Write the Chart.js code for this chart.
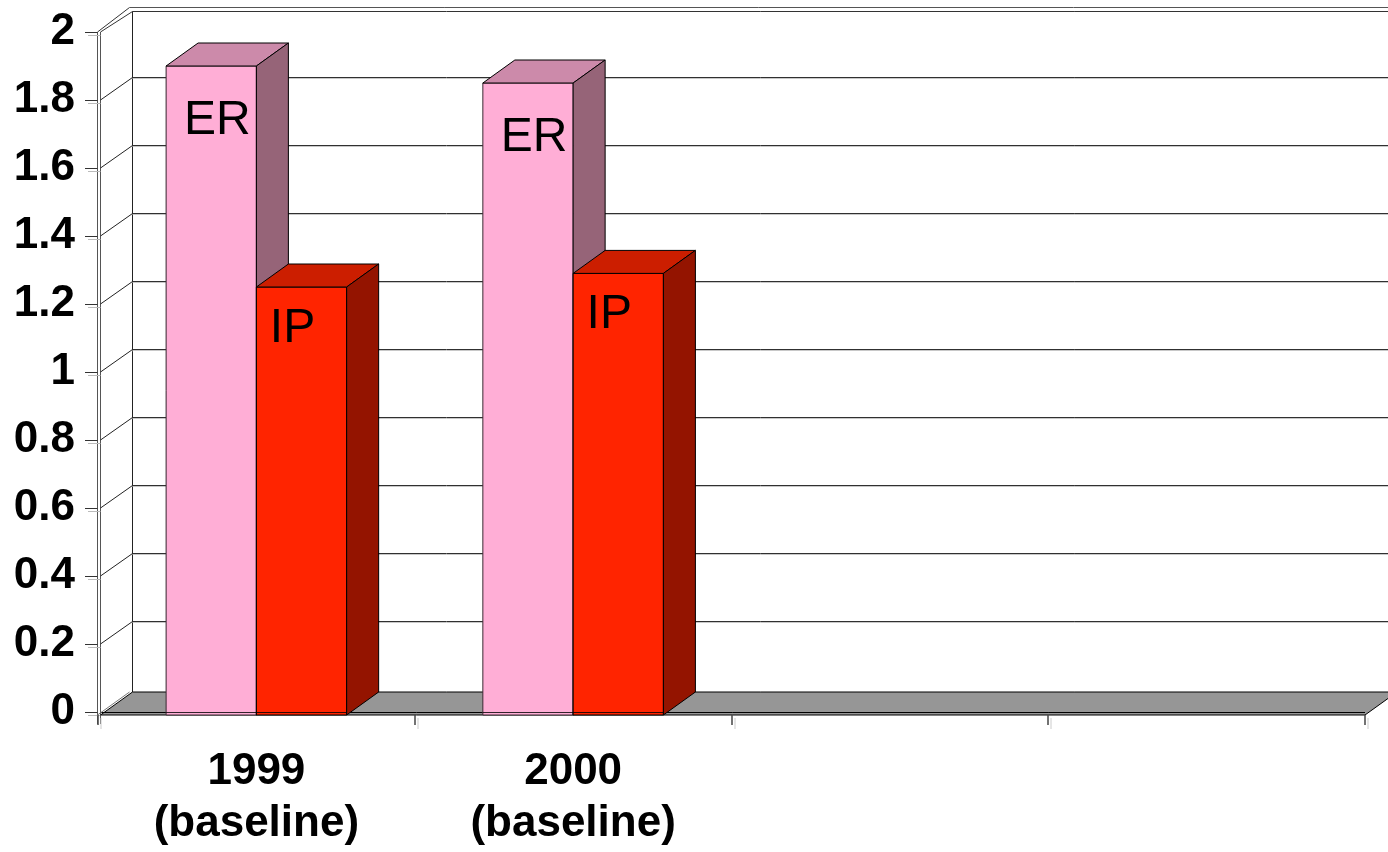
<!DOCTYPE html>
<html>
<head>
<meta charset="utf-8">
<script src="https://cdn.jsdelivr.net/npm/chart.js@4/dist/chart.umd.min.js"></script>
<style>
  html, body { margin: 0; padding: 0; background: #fff; }
  #wrap { width: 1388px; height: 852px; position: relative; }
</style>
</head>
<body>
<div id="wrap"><canvas id="c" width="1388" height="852"></canvas></div>
<script>
// Categories (two labelled years, two empty slots) and the two series
const categories = [['1999', '(baseline)'], ['2000', '(baseline)'], '', ''];
const erValues = [1.9, 1.85, null, null];
const ipValues = [1.25, 1.29, null, null];
const seriesNames = ['ER', 'IP'];
const yTickLabels = ['0', '0.2', '0.4', '0.6', '0.8', '1', '1.2', '1.4', '1.6', '1.8', '2'];

const FONT = '"Liberation Sans", Arial, sans-serif';
const DX = 32, DY = -23;      // depth offset of the 3D box
const DROP = 3;               // thickness of the floor slab

const px = v => Math.round(v) + 0.5;   // crisp 1px lines

function poly(ctx, pts, fill, stroke) {
  ctx.beginPath();
  ctx.moveTo(pts[0][0], pts[0][1]);
  for (let i = 1; i < pts.length; i++) ctx.lineTo(pts[i][0], pts[i][1]);
  ctx.closePath();
  if (fill) { ctx.fillStyle = fill; ctx.fill(); }
  if (stroke) { ctx.strokeStyle = stroke; ctx.lineWidth = 1; ctx.stroke(); }
}
function line(ctx, x1, y1, x2, y2, color, w) {
  ctx.beginPath();
  ctx.moveTo(x1, y1); ctx.lineTo(x2, y2);
  ctx.strokeStyle = color; ctx.lineWidth = w || 1; ctx.stroke();
}

// Draws walls, floor, depth faces of the bars and the in-bar labels
const box3d = {
  id: 'box3d',
  beforeDatasetsDraw(chart) {
    const { ctx, chartArea: a, scales: { y } } = chart;
    const W = chart.width;
    const fx = px(a.left + 2);      // inner front edge of side wall
    const bx = px(a.left + 2 + DX); // back wall left edge
    const ox = px(a.left - 1);      // outer front edge of side wall
    const top = y.getPixelForValue(2);
    const floorFront = a.bottom + DROP;
    ctx.save();
    // side wall front edges
    line(ctx, ox, top, ox, floorFront + 9, '#555');
    line(ctx, fx, top, fx, floorFront + 9, '#555');
    // wall top edges
    const t1 = px(top + DY - 2), t2 = px(top + DY + 2);
    line(ctx, ox, top, bx - 3, t1, '#333');
    line(ctx, fx, top, bx, t2, '#333');
    line(ctx, bx - 3, t1, W, t1, '#555');
    line(ctx, bx, t2, W, t2, '#333');
    // back wall left edge
    line(ctx, bx, t2, bx, floorFront + DY, '#222');
    // gridlines on the walls
    y.ticks.forEach(t => {
      const yy = y.getPixelForValue(t.value);
      if (t.value > 0.001 && t.value < 1.999) {
        const gy = px(yy + DY);
        line(ctx, fx, yy, bx, gy, '#222');
        line(ctx, bx, gy, W, gy, '#303030');
        line(ctx, bx, gy + 1, W, gy + 1, '#c8c8c8');
      }
      // tick marks on the value axis
      line(ctx, a.left - 13, px(yy), ox, px(yy), '#333');
      line(ctx, a.left - 10, px(yy + 3), fx, px(yy + 3), '#bbb');
    });
    // floor
    poly(ctx, [[fx, floorFront], [a.right, floorFront], [a.right + DX, floorFront + DY], [bx, floorFront + DY]], '#969696', '#000');
    line(ctx, fx, px(a.bottom), a.right, px(a.bottom), '#000');
    line(ctx, ox, floorFront, bx - 3, floorFront + DY, '#777');
    // category tick marks
    const step = (a.right - a.left) / categories.length;
    for (let i = 0; i <= categories.length; i++) {
      const xx = Math.round(a.left + i * step);
      line(ctx, xx, floorFront, xx, floorFront + 10, '#444', 1.5);
      line(ctx, xx + 3, floorFront + 3, xx + 3, floorFront + 14, '#ccc');
    }
    ctx.restore();
  },
  afterDatasetsDraw(chart) {
    const { ctx } = chart;
    const sets = chart.data.datasets;
    ctx.save();
    // left-to-right, so each bar's front hides the neighbour's side face
    for (let i = 0; i < categories.length; i++) {
      sets.forEach((ds, di) => {
        if (ds.data[i] == null) return;
        const bar = chart.getDatasetMeta(di).data[i];
        const { x, y, base, width } = bar.getProps(['x', 'y', 'base', 'width'], true);
        const l = x - width / 2, r = x + width / 2;
        const b = base + DROP;
        // front face, carried down over the floor edge
        poly(ctx, [[l, y], [r, y], [r, b], [l, b]], ds.backgroundColor, ds.borderColor);
        line(ctx, l, px(base), r, px(base), 'rgba(0,0,0,0.8)');
        // top face
        poly(ctx, [[l, y], [r, y], [r + DX, y + DY], [l + DX, y + DY]], ds.topColor, '#000');
        // side face
        poly(ctx, [[r, y], [r + DX, y + DY], [r + DX, b + DY], [r, b]], ds.sideColor, '#000');
        // series label inside the bar
        ctx.fillStyle = '#000';
        ctx.font = '48px ' + FONT;
        ctx.textAlign = 'center';
        ctx.textBaseline = 'alphabetic';
        ctx.fillText(ds.label, x + ds.labelShift, y + ds.labelDrop);
      });
    }
    ctx.restore();
  }
};

new Chart(document.getElementById('c'), {
  type: 'bar',
  data: {
    labels: categories,
    datasets: [
      {
        label: seriesNames[0], data: erValues,
        backgroundColor: '#FFAED6', borderColor: '#3a2a33', borderWidth: 1,
        topColor: '#CC8AAA', sideColor: '#966478',
        labelShift: 6, labelDrop: 68
      },
      {
        label: seriesNames[1], data: ipValues,
        backgroundColor: '#FF2400', borderColor: '#000', borderWidth: 1,
        topColor: '#CC1E00', sideColor: '#941400',
        labelShift: -9, labelDrop: 55
      }
    ]
  },
  options: {
    responsive: false,
    animation: false,
    devicePixelRatio: 1,
    layout: { padding: { top: 32, right: 23, left: 0, bottom: 0 } },
    datasets: { bar: { categoryPercentage: 0.57, barPercentage: 1.0 } },
    plugins: { legend: { display: false }, tooltip: { enabled: false } },
    scales: {
      x: {
        grid: { display: false, drawTicks: false },
        border: { display: false },
        ticks: {
          font: { family: FONT, size: 44, weight: 'bold', lineHeight: 1.2 },
          color: '#000', padding: 33, maxRotation: 0, minRotation: 0, autoSkip: false
        },
        afterFit(s) { s.height = 140; s.paddingLeft = 0; s.paddingRight = 0; }
      },
      y: {
        min: 0, max: 2,
        grid: { display: false, drawTicks: false },
        border: { display: false },
        ticks: {
          stepSize: 0.2,
          callback: (v, i) => yTickLabels[i],
          font: { family: FONT, size: 44, weight: 'bold' },
          color: '#000', padding: 23
        },
        afterFit(s) { s.width = 98; s.paddingTop = 0; s.paddingBottom = 0; }
      }
    }
  },
  plugins: [box3d]
});
</script>
</body>
</html>
